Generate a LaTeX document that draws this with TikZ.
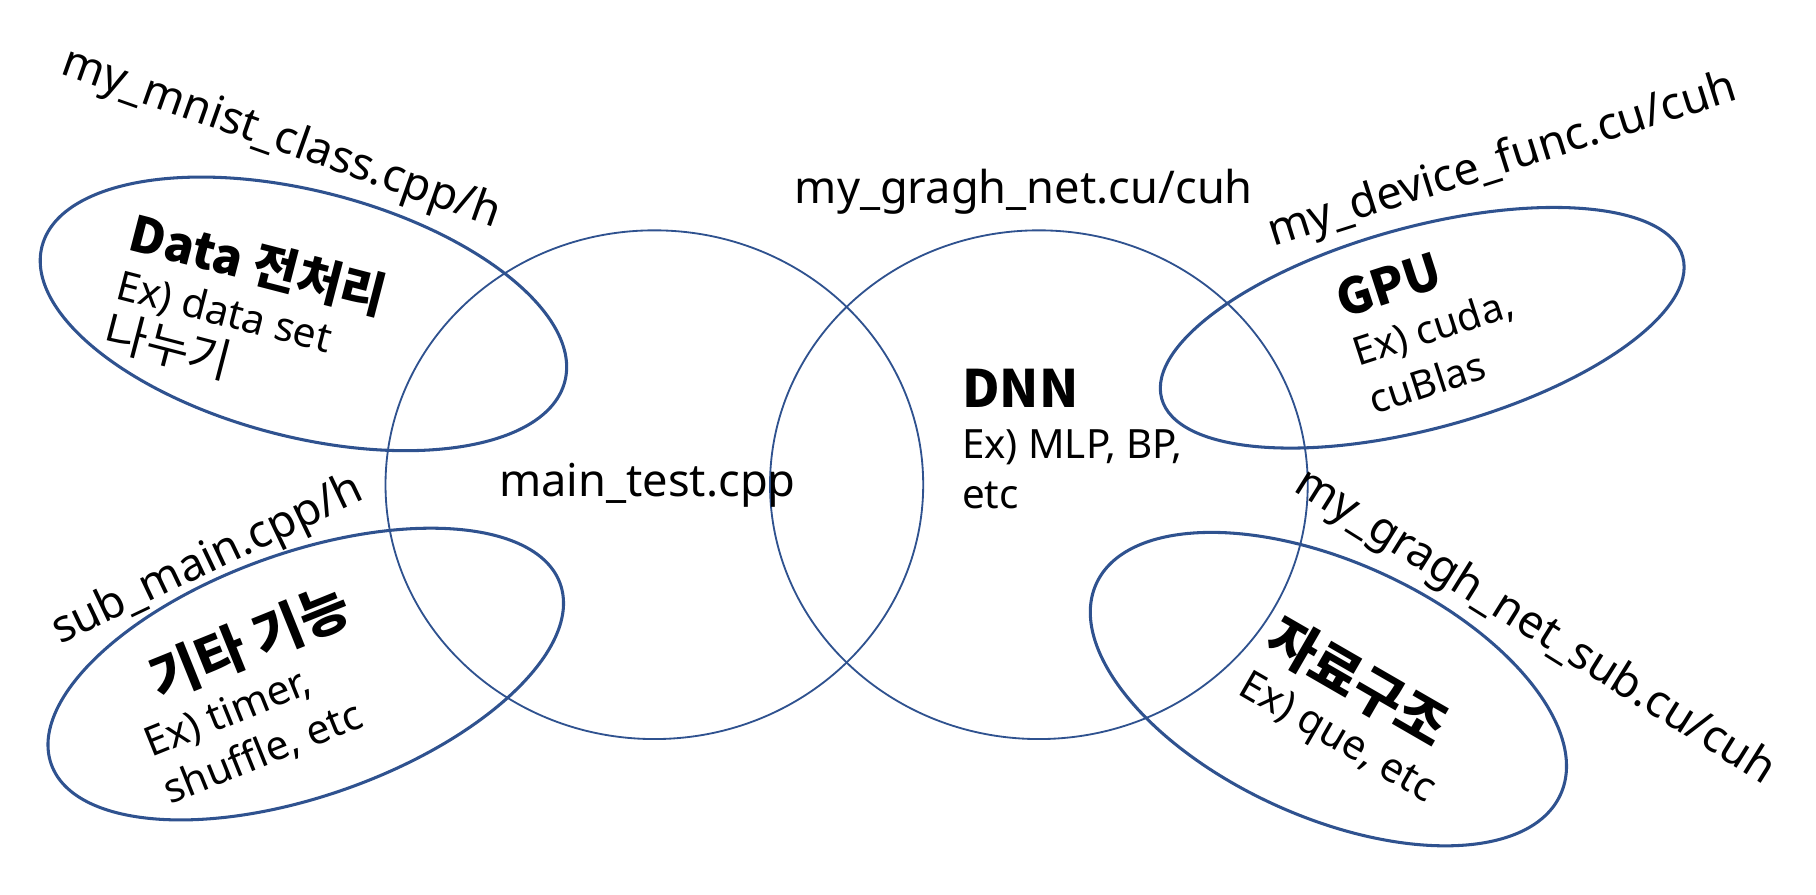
\documentclass[tikz,border=0pt]{standalone}
\usepackage{fontspec}
\setmainfont{Noto Sans}
\newfontfamily\krfont{Noto Sans CJK KR}[Scale=1.15]
\usepackage{xcolor}
\usetikzlibrary{shapes.geometric}
\definecolor{venblue}{HTML}{2F528F}
\newcommand\headfnt[1]{\fontsize{#1}{12.4}\selectfont\krfont\bfseries}

\begin{document}
\begin{tikzpicture}[x=0.01cm, y=-0.01cm,
        ring/.style={ellipse, draw=venblue, line width=0.45pt, inner sep=0pt},
        blob/.style={ellipse, draw=venblue, line width=0.75pt, inner sep=0pt},
        fname/.style={inner sep=0pt, font=\fontsize{11.1}{13}\selectfont},
        note/.style={inner sep=0pt, anchor=north west, align=left, font=\fontsize{10}{12.4}\selectfont}]
    \useasboundingbox (0,0) rectangle (1568,772);

    % the two big circles
    \node[ring, minimum width=4.64cm, minimum height=4.39cm] (mainc) at (565,418.5) {};
    \node[ring, minimum width=4.64cm, minimum height=4.39cm] (dnnc) at (897,418.5) {};

    % the four outer files
    \node[blob, minimum width=4.66cm, minimum height=2.12cm, rotate=-14.5] (prep) at (262,271) {};
    \node[blob, minimum width=4.66cm, minimum height=1.74cm, rotate=15.2] (gpu) at (1228,283) {};
    \node[blob, minimum width=4.66cm, minimum height=2.10cm, rotate=19.5] (misc) at (264,582) {};
    \node[blob, minimum width=4.40cm, minimum height=2.20cm, rotate=-24.4] (dstruct) at (1147,595) {};

    % file names
    \node[fname, anchor=base] (mainlbl) at (559,429) {main\_test.cpp};
    \node[fname, anchor=base] (netlbl) at (884,175.5) {my\_gragh\_net.cu/cuh};
    \node[fname, rotate=-19.5] (mnistlbl) at (242.5,120.5) {my\_mnist\_class.cpp/h};
    \node[fname, rotate=17.5] (devlbl) at (1297.5,139.5) {my\_device\_func.cu/cuh};
    \node[fname, rotate=25.5] (sublbl) at (179.5,484.5) {sub\_main.cpp/h};
    \node[fname, rotate=-32] (netsublbl) at (1325,542) {my\_gragh\_net\_sub.cu/cuh};

    % what each part does
    \node[note, font=\fontsize{9.9}{12.4}\selectfont] (dnntxt) at (830,318)
        {{\headfnt{11}DNN}\\Ex) MLP, BP,\\etc};
    \node[note, rotate=-14.5] (preptxt) at (118,179.5)
        {{\headfnt{10.5}Data 전처리}\\Ex) data set\\{\krfont 나누기}};
    \node[note, rotate=18, font=\fontsize{9.7}{12.4}\selectfont] (gputxt) at (1149,244)
        {{\headfnt{10.5}GPU}\\Ex) cuda,\\cuBlas};
    \node[note, rotate=22] (misctxt) at (99,577)
        {\hspace*{7pt}{\headfnt{11.5}기타 기능}\\Ex) timer,\\shuffle, etc};
    \node[note, rotate=-30] (dstructtxt) at (1109,526)
        {{\headfnt{11.5}자료구조}\\Ex) que, etc};
\end{tikzpicture}
\end{document}
